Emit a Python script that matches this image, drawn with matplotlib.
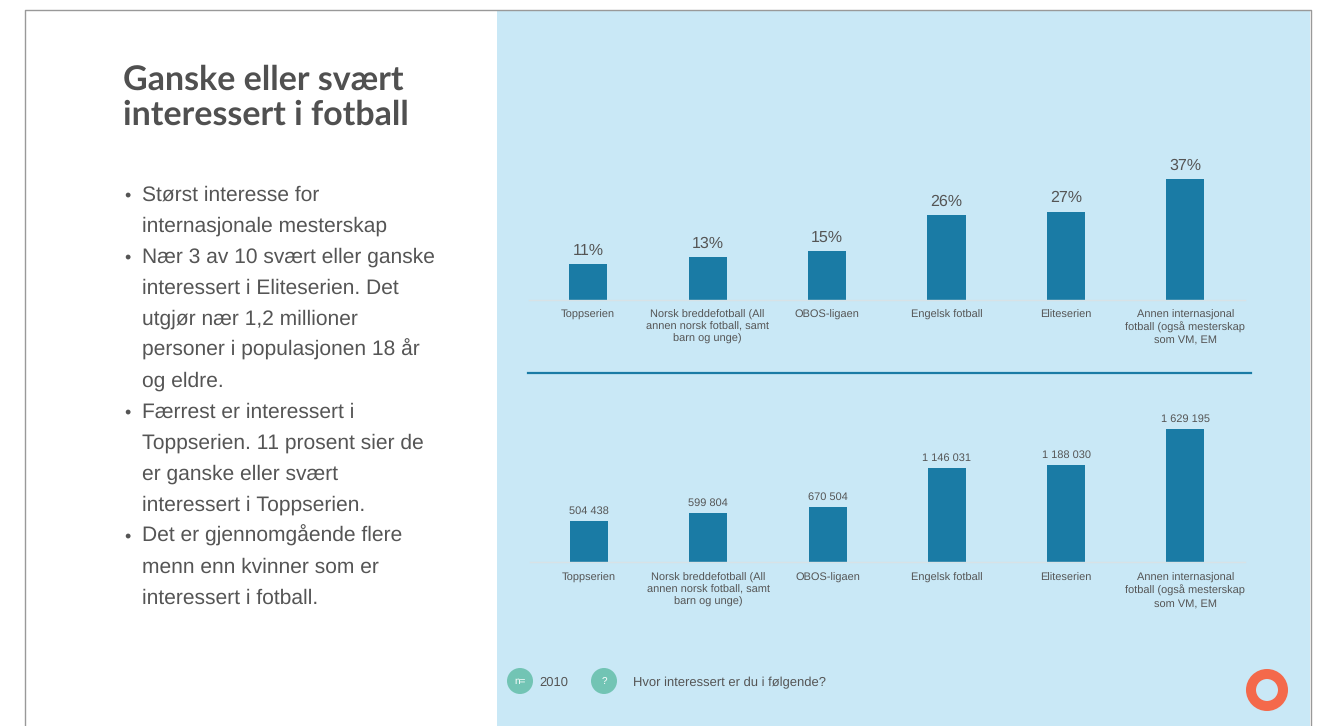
import matplotlib
matplotlib.use("Agg")
import matplotlib.pyplot as plt
from matplotlib.patches import Circle, Rectangle

plt.rcParams['font.family'] = ['Liberation Sans', 'DejaVu Sans']
plt.rcParams['text.hinting'] = 'no_hinting'
plt.rcParams['text.hinting_factor'] = 1

W, H = 1332, 726
BLUE = '#c9e8f6'
BAR = '#1a7ba5'
TEAL = '#72c4b4'
GREY = '#555555'
CORAL = '#f4694b'

# Data
categories = [
    "Toppserien",
    "Norsk breddefotball (All\nannen norsk fotball, samt\nbarn og unge)",
    "OBOS-ligaen",
    "Engelsk fotball",
    "Eliteserien",
    "Annen internasjonal\nfotball (også mesterskap\nsom VM, EM",
]
percent = [11, 13, 15, 26, 27, 37]
persons = [504438, 599804, 670504, 1146031, 1188030, 1629195]

title_lines = ["Ganske eller svært", "interessert i fotball"]
bullets = [
    ["Størst interesse for", "internasjonale mesterskap"],
    ["Nær 3 av 10 svært eller ganske", "interessert i Eliteserien. Det",
     "utgjør nær 1,2 millioner", "personer i populasjonen 18 år", "og eldre."],
    ["Færrest er interessert i", "Toppserien. 11 prosent sier de",
     "er ganske eller svært", "interessert i Toppserien."],
    ["Det er gjennomgående flere", "menn enn kvinner som er",
     "interessert i fotball."],
]


def add_axes_px(left, top, right, bottom):
    return fig.add_axes([left / W, 1 - bottom / H, (right - left) / W, (bottom - top) / H])


def bar_panel(ax, values, labels, ymax, size, pad, tick_pad):
    x = range(len(values))
    bars = ax.bar(x, values, width=0.32, color=BAR)
    ax.bar_label(bars, labels=labels, padding=pad, fontsize=size, color=GREY)
    ax.set_xlim(-0.5, 5.5)
    ax.set_ylim(0, ymax)
    ax.set_xticks(list(x))
    ax.set_xticklabels(categories, fontsize=7.6, color=GREY, linespacing=1.22)
    ax.tick_params(axis='x', length=0, pad=tick_pad)
    ax.set_yticks([])
    ax.patch.set_alpha(0)
    for s in ['top', 'left', 'right']:
        ax.spines[s].set_visible(False)
    ax.spines['bottom'].set_color('#d8e2e6')
    ax.spines['bottom'].set_linewidth(1)


fig = plt.figure(figsize=(W / 100, H / 100), dpi=100, facecolor='white')

# Slide background in pixel coordinates
bg = fig.add_axes([0, 0, 1, 1])
bg.set_xlim(0, W)
bg.set_ylim(H, 0)
bg.axis('off')
bg.add_patch(Rectangle((497, 10), 813, H - 10, color=BLUE, lw=0))
bg.plot([25, 25, 1310.5, 1310.5], [H, 10, 10, H], color='#999999', lw=1)

# Left side text
for i, line in enumerate(title_lines):
    bg.text(123, 90 + i * 35, line, fontsize=24.7, fontweight='bold', color='#505050',
            family=['Lato', 'DejaVu Sans'], va='baseline', ha='left')

y = 201
for group in bullets:
    bg.text(124, y, "•", fontsize=13, color=GREY, va='baseline')
    for line in group:
        bg.text(142, y, line, fontsize=15.2, color=GREY, va='baseline')
        y += 31

# Charts
ax1 = add_axes_px(528.5, 140, 1245, 300)
bar_panel(ax1, percent, [f"{v}%" for v in percent], 160 / 3.27, 11.5, 4.5, 7)

ax2 = add_axes_px(529.5, 400, 1245, 562)
bar_panel(ax2, persons, [f"{v:,}".replace(",", " ") for v in persons],
          162 * 1629195 / 133, 7.6, 3.5, 8)

bg.plot([528, 1251], [373, 373], color=BAR, lw=1.6)

# Footer
bg.add_patch(Circle((520, 681), 13, color=TEAL, lw=0))
bg.text(520, 684, "n=", fontsize=7, color='white', ha='center', va='baseline')
bg.text(539, 686, "2010", fontsize=9.6, color=GREY, va='baseline')
bg.add_patch(Circle((604, 681), 13, color=TEAL, lw=0))
bg.text(604, 684, "?", fontsize=7, color='white', ha='center', va='baseline')
bg.text(633, 686, "Hvor interessert er du i følgende?", fontsize=9.6, color=GREY, va='baseline')

bg.add_patch(Circle((1267, 690), 16, facecolor='none', edgecolor=CORAL, lw=7.2))

fig.savefig("out.png", dpi=100)
